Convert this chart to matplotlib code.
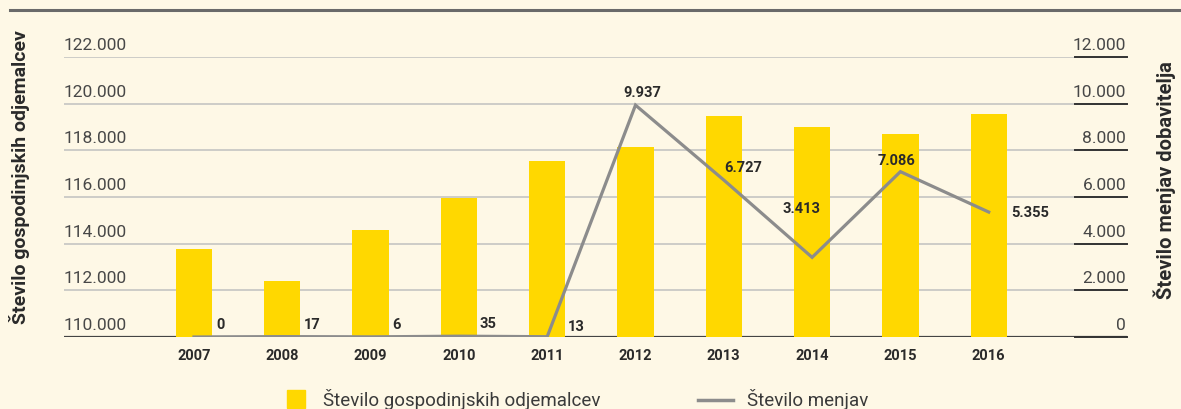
import matplotlib
matplotlib.use("Agg")
import matplotlib.pyplot as plt
from matplotlib.lines import Line2D
from matplotlib.patches import Rectangle
import matplotlib.transforms as mtrans

years = ["2007", "2008", "2009", "2010", "2011", "2012", "2013", "2014", "2015", "2016"]
customers = [113770, 112400, 114590, 115960, 117540, 118140, 119470, 119000, 118700, 119560]
switches = [0, 17, 6, 35, 13, 9937, 6727, 3413, 7086, 5355]
left_ticks = [110000, 112000, 114000, 116000, 118000, 120000, 122000]
right_ticks = [0, 2000, 4000, 6000, 8000, 10000, 12000]
left_label = "Število gospodinjskih odjemalcev"
right_label = "Število menjav dobavitelja"
legend_bar = "Število gospodinjskih odjemalcev"
legend_line = "Število menjav"

# label offsets in pixels (dx, dy, ha)
label_pos = [(22, 13, "left"), (22, 13, "left"), (22, 13, "left"), (21, 13, "left"), (21, 11, "left"),
             (7, 13, "center"), (0, 13, "left"), (8, 49, "right"), (-4, 12, "center"), (22, 0, "left")]

def fmt(v):
    return f"{v:,}".replace(",", ".")

BG = "#FEF8E6"
YEL = "#FFD800"
GRAY = "#8C8C8C"
DARK = "#2a2a2a"
TICKC = "#474747"
FONT = "Roboto"

W, H = 1181, 410
fig = plt.figure(figsize=(W / 100, H / 100), dpi=100, facecolor=BG)

L, R, B, T = 64, 1127, 338, 58
ax = fig.add_axes([L / W, 1 - B / H, (R - L) / W, (B - T) / H])
ax.set_facecolor(BG)
x = list(range(len(years)))
ax.set_xlim(-1.472, 10.566)
ax.set_ylim(left_ticks[0], left_ticks[-1])

for v in left_ticks[1:]:
    ax.axhline(v, color="#C9C9C5", lw=1.3, zorder=0)
ax.axhline(left_ticks[0], color="#444444", lw=1.6, zorder=1)

ax.bar(x, customers, width=0.41, color=YEL, zorder=2, bottom=0)
for s in ax.spines.values():
    s.set_visible(False)
ax.set_xticks([])
ax.set_yticks([])

ax2 = ax.twinx()
ax2.set_ylim(right_ticks[0], right_ticks[-1])
ax2.patch.set_visible(False)
for s in ax2.spines.values():
    s.set_visible(False)
ax2.set_yticks([])
ax2.plot(x, switches, color=GRAY, lw=2.3, zorder=3, solid_joinstyle="miter")

for xi, v, (dx, dy, ha) in zip(x, switches, label_pos):
    ax2.annotate(fmt(v), (xi, v), xytext=(dx, dy), textcoords="offset pixels",
                 ha=ha, va="center", fontsize=10.5, fontweight="bold", color=DARK, family=FONT)

# left tick labels
blend_l = mtrans.blended_transform_factory(ax.transAxes, ax.transData)
for v in left_ticks:
    ax.annotate(fmt(v), (0, v), xycoords=blend_l, xytext=(0, 5), textcoords="offset pixels",
                ha="left", va="bottom", fontsize=12.5, color=TICKC, family=FONT)

# right tick labels and short rules
blend_r = mtrans.blended_transform_factory(ax2.transAxes, ax2.transData)
for v in right_ticks:
    ax2.annotate(fmt(v), (1, v), xycoords=blend_r, xytext=(-1, 5), textcoords="offset pixels",
                 ha="right", va="bottom", fontsize=12.5, color=TICKC, family=FONT)
    ax2.plot([1 - 52 / (R - L), 1], [v, v], transform=blend_r, color="#333333", lw=1.4,
             clip_on=False, zorder=4)

# x labels
blend_x = mtrans.blended_transform_factory(ax.transData, ax.transAxes)
for xi, yr in zip(x, years):
    ax.annotate(yr, (xi, 0), xycoords=blend_x, xytext=(0, -18), textcoords="offset pixels",
                ha="center", va="center", fontsize=10.5, fontweight="bold", color=DARK, family=FONT)

# axis titles
fig.text(20 / W, 1 - 177 / H, left_label, rotation=90, ha="center", va="center",
         fontsize=14, fontweight="bold", color=DARK, family=FONT)
fig.text(1165 / W, 1 - 180 / H, right_label, rotation=90, ha="center", va="center",
         fontsize=14.5, fontweight="bold", color=DARK, family=FONT)

# top rule
fig.add_artist(Line2D([10 / W, 1], [1 - 11 / H] * 2, color="#6a6a6a", lw=2.2))

# legend
fig.add_artist(Rectangle((287 / W, 1 - 409 / H), 18 / W, 18 / H, color=YEL, transform=fig.transFigure))
fig.text(323 / W, 1 - 400 / H, legend_bar, ha="left", va="center", fontsize=13.5,
         color="#3a3a3a", family=FONT)
fig.add_artist(Line2D([698 / W, 733 / W], [1 - 401 / H] * 2, color=GRAY, lw=2.5))
fig.text(747 / W, 1 - 400 / H, legend_line, ha="left", va="center", fontsize=13.5,
         color="#3a3a3a", family=FONT)

fig.savefig("out.png", dpi=100, facecolor=BG)
